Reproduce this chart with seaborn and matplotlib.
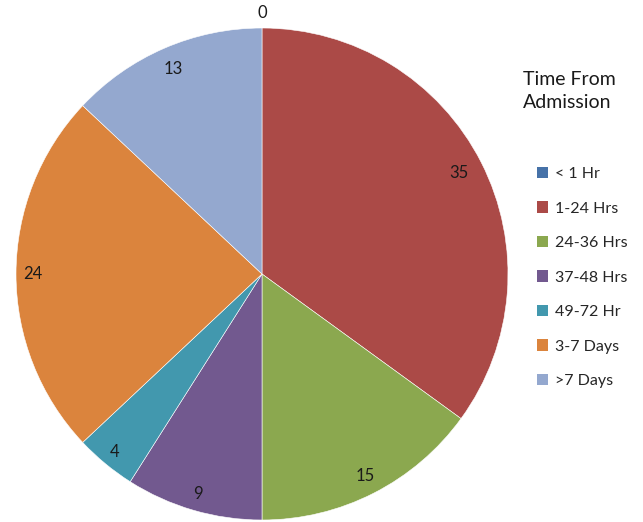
import matplotlib
matplotlib.use("Agg")
import matplotlib.pyplot as plt
import numpy as np
import seaborn as sns
from matplotlib.patches import Patch

sns.set_style("white")
plt.rcParams["font.family"] = ["Lato", "DejaVu Sans"]

categories = ["< 1 Hr", "1-24 Hrs", "24-36 Hrs", "37-48 Hrs", "49-72 Hr", "3-7 Days", ">7 Days"]
values = [0, 35, 15, 9, 4, 24, 13]
colors = ["#4672A8", "#AB4A47", "#8BA84F", "#72598F", "#4298AE", "#DB843D", "#94A8CF"]
legend_title = "Time From\nAdmission"

W, H = 643, 522
fig = plt.figure(figsize=(W / 100, H / 100), dpi=100)

cx, cy, r = 262, 274, 246
ax = fig.add_axes([(cx - r) / W, (H - cy - r) / H, 2 * r / W, 2 * r / H])

wedges, _ = ax.pie(values, colors=colors, startangle=90, counterclock=False,
                   radius=1.0, wedgeprops=dict(edgecolor="white", linewidth=0.4))
ax.set_xlim(-1, 1)
ax.set_ylim(-1, 1)
ax.set_aspect("equal")
ax.axis("off")

# value labels placed along each wedge's bisector
dists = [1.06, 0.90, 0.92, 0.93, 0.94, 0.93, 0.91]
for w, v, d in zip(wedges, values, dists):
    mid = np.deg2rad((w.theta1 + w.theta2) / 2)
    ax.text(d * np.cos(mid), d * np.sin(mid), str(v), ha="center", va="center",
            fontsize=12, color="#1a1a1a", clip_on=False)

fig.text(523 / W, 1 - 71 / H, legend_title, ha="left", va="top", fontsize=14,
         color="#1a1a1a", linespacing=1.45)

handles = [Patch(facecolor=c, edgecolor="none") for c in colors]
fig.legend(handles, categories, loc="upper left", bbox_to_anchor=(537 / W, 1 - 167 / H),
           frameon=False, fontsize=11.5, handlelength=0.7, handleheight=0.7,
           handletextpad=0.45, labelspacing=1.27, borderpad=0, borderaxespad=0)

fig.savefig("out.png", dpi=100, facecolor="white")
